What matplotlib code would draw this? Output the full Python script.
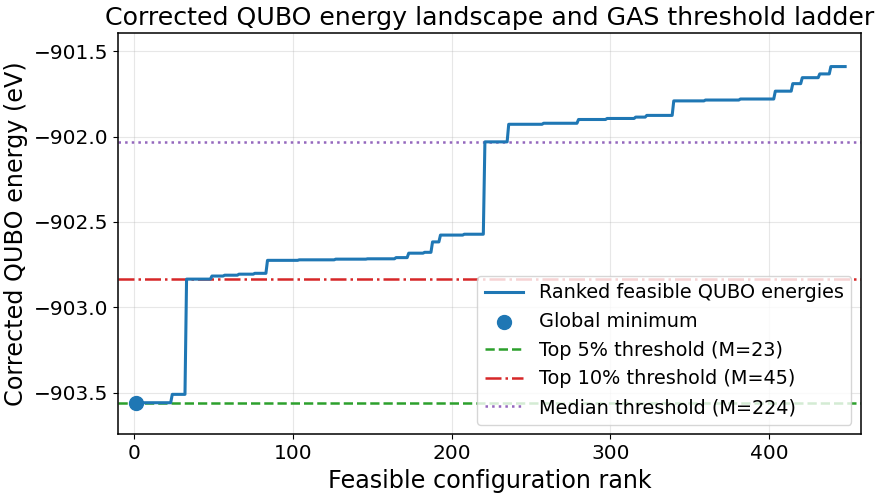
import numpy as np
import matplotlib
matplotlib.use("Agg")
import matplotlib.pyplot as plt

# Distinct energy plateaus (eV) of the ranked feasible configurations and their multiplicities
plateau_energies = [
    -903.559, -903.510, -902.835, -902.817, -902.812, -902.806, -902.801,
    -902.725, -902.722, -902.718, -902.716, -902.709, -902.683, -902.678,
    -902.617, -902.577, -902.572, -902.031, -901.928, -901.922, -901.900,
    -901.894, -901.886, -901.876, -901.791, -901.786, -901.780, -901.734,
    -901.690, -901.655, -901.633, -901.590,
]
plateau_counts = [
    23, 9, 16, 8, 9, 10, 8,
    20, 23, 20, 18, 8, 10, 5,
    5, 15, 13, 15, 22, 22, 18,
    18, 7, 17, 20, 22, 22, 11,
    6, 11, 7, 10,
]

energies = np.repeat(plateau_energies, plateau_counts)
ranks = np.arange(1, len(energies) + 1)
N = len(energies)

M_top5 = 23
M_top10 = 45
M_median = 224

fig = plt.figure(figsize=(8.85, 4.99), dpi=100)
ax = fig.add_axes([0.1337, 0.1293, 0.9729 - 0.1337, 0.9333 - 0.1293])

ax.plot(ranks, energies, color="tab:blue", lw=2.2, label="Ranked feasible QUBO energies", zorder=3)
ax.scatter([ranks[0]], [energies[0]], s=100, color="tab:blue", zorder=4, label="Global minimum")
ax.axhline(energies[M_top5 - 1], color="tab:green", ls="--", lw=1.8,
           label=f"Top 5% threshold (M={M_top5})")
ax.axhline(energies[M_top10 - 1], color="tab:red", ls="-.", lw=1.8,
           label=f"Top 10% threshold (M={M_top10})")
ax.axhline(energies[M_median - 1], color="tab:purple", ls=":", lw=1.8,
           label=f"Median threshold (M={M_median})")

ax.set_xlim(-10, N + 10)
ax.set_ylim(-903.745, -901.395)
ax.set_yticks([-903.5, -903.0, -902.5, -902.0, -901.5])
ax.set_xticks([0, 100, 200, 300, 400])
ax.grid(True, alpha=0.3)
ax.tick_params(labelsize=14.5)
for s in ax.spines.values():
    s.set_linewidth(1.1)

ax.set_title("Corrected QUBO energy landscape and GAS threshold ladder", fontsize=18.2)
ax.set_xlabel("Feasible configuration rank", fontsize=17.2)
ax.set_ylabel("Corrected QUBO energy (eV)", fontsize=17.2)
ax.legend(loc="lower right", fontsize=13.9)

fig.savefig("out.png", dpi=100)
